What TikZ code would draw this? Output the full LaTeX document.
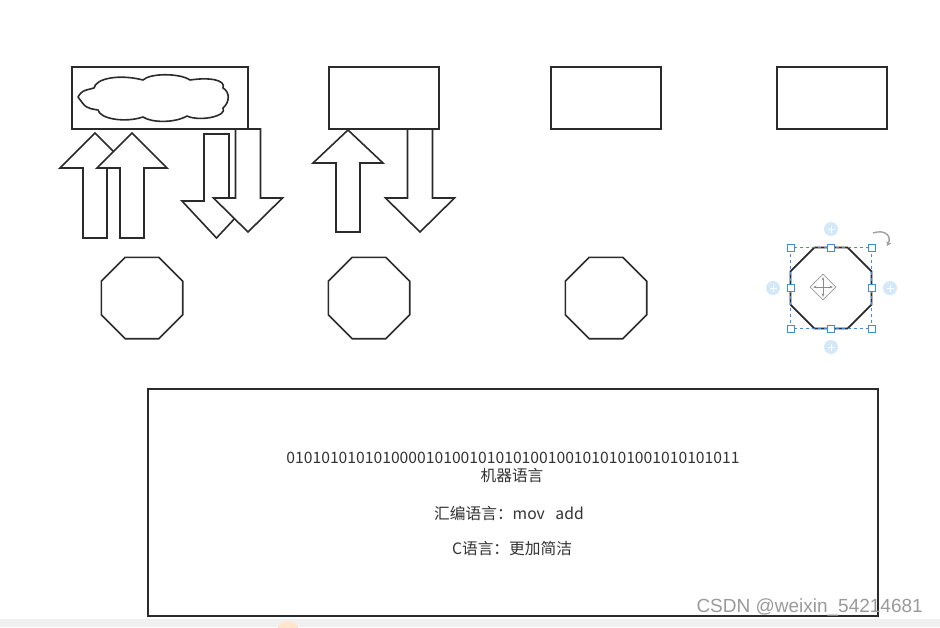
\documentclass[tikz,border=0pt]{standalone}
\usepackage{fontspec}
\setmainfont{Noto Sans CJK SC}
\newfontfamily\wmfont{Liberation Sans}
\usetikzlibrary{shapes.geometric,arrows.meta}

\definecolor{lineblk}{HTML}{2B2B2B}
\definecolor{txtgray}{HTML}{333333}
\definecolor{selblue}{HTML}{3C8EE0}
\definecolor{handlebg}{HTML}{D3E8F8}
\definecolor{wmgray}{HTML}{9A9A9A}

\tikzset{
  box/.style={draw=lineblk,line width=1.6pt,fill=white,minimum height=62pt,inner sep=0pt},
  octa/.style={draw=lineblk,line width=1.7pt,regular polygon,regular polygon sides=8,
    minimum size=88pt,inner sep=0pt,outer sep=0pt},
  blockarrow/.style={draw=lineblk,line width=1.6pt,fill=white,line join=miter},
  handle/.style={draw=selblue,fill=white,line width=0.8pt,minimum size=7pt,inner sep=0pt},
  helper/.style={fill=handlebg,circle,minimum size=14pt,inner sep=0pt},
  txt/.style={text=txtgray,font=\fontsize{15.7}{18}\selectfont,inner sep=0pt}
}

\begin{document}
\begin{tikzpicture}[x=1pt,y=-1pt]
\useasboundingbox (0,0) rectangle (940,627);
\fill[white] (0,0) rectangle (940,627);
\fill[black!6] (0,619) rectangle (940,627);
\fill[orange!20] (288,632) circle (11);

% The boxes on the top row
\node[box,minimum width=176pt] (mem) at (160,98) {};
\node[box,minimum width=110pt] (cpu) at (384,98) {};
\node[box,minimum width=110pt] (box3) at (606,98) {};
\node[box,minimum width=110pt] (box4) at (832,98) {};

% The cloud in the first box
\draw[lineblk,line width=1.6pt,line join=round]
  (78,97) .. controls (82,91) .. (94,88)
  .. controls (96,78) and (120,74) .. (143,80)
  .. controls (150,73) and (180,73) .. (190,80)
  .. controls (210,77) and (226,80) .. (223,88)
  .. controls (230,92) and (230,102) .. (223,108)
  .. controls (228,116) and (200,122) .. (187,116)
  .. controls (175,123) and (152,123) .. (143,117)
  .. controls (125,123) and (100,119) .. (98,110)
  .. controls (86,108) .. cycle;

% Up arrows (x of centre / tip / head base / bottom)
\foreach \cx/\ya/\yb/\yc in {95/133/168/238, 132/133/168/238, 348/130/163/232}
{
  \draw[blockarrow] ({\cx-12},\yc) -- ({\cx-12},\yb) -- ({\cx-35},\yb) --
    (\cx,\ya) -- ({\cx+35},\yb) -- ({\cx+12},\yb) -- ({\cx+12},\yc) -- cycle;
}

% Down arrows (x of centre / top / head base / tip)
\foreach \cx/\ya/\yb/\yc in {216.5/134/201/238, 248/129/198/232, 420/129/198/232}
{
  \draw[blockarrow] ({\cx-12.5},\ya) -- ({\cx-12.5},\yb) -- ({\cx-34.5},\yb) --
    (\cx,\yc) -- ({\cx+34.5},\yb) -- ({\cx+12.5},\yb) -- ({\cx+12.5},\ya) -- cycle;
}

% The octagons
\node[octa] (oct1) at (142,298) {};
\node[octa] (oct2) at (369,298) {};
\node[octa] (oct3) at (606,298) {};

% The selected octagon with its handles
\foreach \hx/\hy in {831/229, 773/288, 890/288, 831/347}
{
  \node[helper] at (\hx,\hy) {};
  \draw[white,line width=0.8pt] (\hx-3.5,\hy) -- (\hx+3.5,\hy) (\hx,\hy-3.5) -- (\hx,\hy+3.5);
}
\node[octa,minimum size=87.5pt] (oct4) at (831,288) {};
\draw[selblue,line width=0.8pt,dash pattern=on 3pt off 3pt] (790.5,247.5) rectangle (871.5,328.5);
\foreach \hx/\hy in {790.5/247.5, 831/247.5, 871.5/247.5, 790.5/288, 871.5/288,
                     790.5/328.5, 831/328.5, 871.5/328.5}
  \node[handle] at (\hx,\hy) {};

% Move and rotate marks
\node[diamond,draw=gray!80,line width=0.7pt,minimum size=26pt,inner sep=0pt] (move) at (823,287) {};
\draw[gray!90,line width=0.9pt,{Stealth[length=3.5pt]}-{Stealth[length=3.5pt]}] (813,287) -- (833,287);
\draw[gray!90,line width=0.9pt,{Stealth[length=3.5pt]}-{Stealth[length=3.5pt]}] (823,277) -- (823,297);
\draw[gray!75,line width=1.4pt,-{Stealth[length=4.5pt,width=5.5pt]}] (873,233)
  .. controls (885,229) and (892,236) .. (887,246);

% The text box
\node[draw=lineblk,line width=1.6pt,minimum width=730pt,minimum height=227pt,inner sep=0pt]
  (lang) at (513,502.5) {};
\node[txt] (bin) at (513,458) {0101010101010000101001010101001001010101001010101011};
\node[txt] (mach) at (512,476) {机器语言};
\node[txt] (asm) at (509,513) {汇编语言：mov\ \ \ add};
\node[txt] (clang) at (512,549) {C语言：更加简洁};

% Watermark
\node[anchor=east,text=wmgray,font=\wmfont\fontsize{19}{21}\selectfont,inner sep=0pt]
  (wm) at (923,607) {CSDN @weixin\_54214681};
\end{tikzpicture}
\end{document}
